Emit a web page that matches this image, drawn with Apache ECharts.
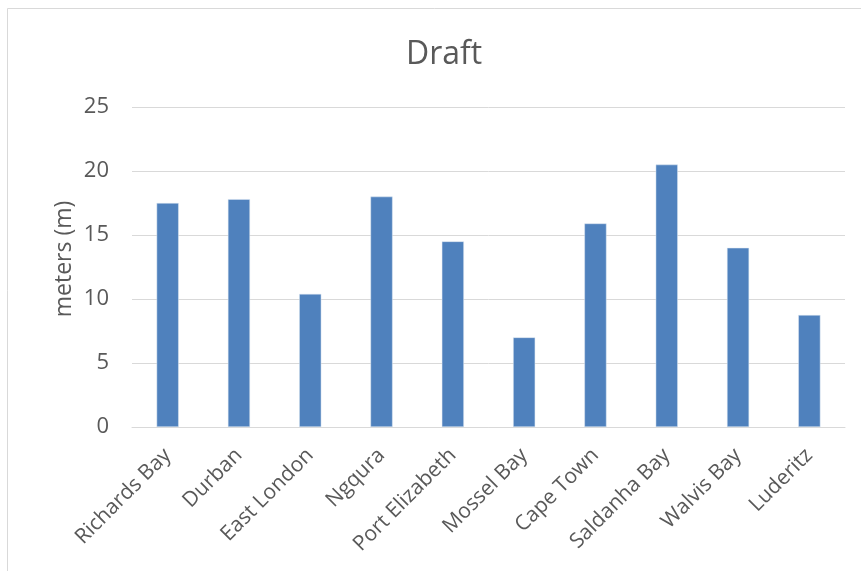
<!DOCTYPE html>
<html>
<head>
<meta charset="utf-8">
<script src="https://cdn.jsdelivr.net/npm/echarts@6/dist/echarts.min.js"></script>
<style>
  html, body { margin: 0; padding: 0; background: #fff; }
  #chart { width: 861px; height: 571px; }
</style>
</head>
<body>
<div id="chart"></div>
<script>
// 港口吃水数据
const ports = ['Richards Bay', 'Durban', 'East London', 'Ngqura', 'Port Elizabeth',
  'Mossel Bay', 'Cape Town', 'Saldanha Bay', 'Walvis Bay', 'Luderitz'];
const draft = [17.5, 17.8, 10.4, 18.0, 14.5, 7.0, 15.9, 20.5, 14.0, 8.75];
const yTicks = [0, 5, 10, 15, 20, 25];
const yName = 'meters (m)';

const font = '"Open Sans", "Noto Sans", sans-serif';
const myChart = echarts.init(document.getElementById('chart'));

const option = {
  animation: false,
  backgroundColor: '#fff',
  graphic: [{
    type: 'rect',
    shape: {x: 7.5, y: 8.5, width: 900, height: 600},
    style: {fill: 'none', stroke: '#d9d9d9', lineWidth: 1},
    silent: true
  }, {
    // y轴名称，Excel里略偏上
    type: 'text',
    x: 64,
    y: 259,
    rotation: Math.PI / 2,
    style: {
      text: yName,
      fill: '#595959',
      font: '23px ' + font,
      align: 'center',
      verticalAlign: 'middle'
    },
    silent: true
  }],
  title: {
    text: 'Draft',
    left: 406,
    top: 39,
    padding: 0,
    textStyle: {fontFamily: font, fontSize: 32, fontWeight: 'normal', color: '#595959'}
  },
  grid: {left: 132, right: 16, top: 107, bottom: 144},
  xAxis: {
    type: 'category',
    data: ports,
    axisLine: {lineStyle: {color: '#d9d9d9', width: 1}},
    axisTick: {show: false},
    axisLabel: {
      rotate: 45,
      interval: 0,
      margin: 25,
      color: '#595959',
      fontFamily: font,
      fontSize: 21
    }
  },
  yAxis: {
    type: 'value',
    min: yTicks[0],
    max: yTicks[yTicks.length - 1],
    interval: 5,
    axisLine: {show: false},
    axisTick: {show: false},
    axisLabel: {color: '#595959', fontFamily: font, fontSize: 22, margin: 23},
    splitLine: {lineStyle: {color: '#d9d9d9', width: 1}}
  },
  series: [{
    type: 'bar',
    data: draft,
    barWidth: '31%',
    itemStyle: {color: '#4F81BD', borderColor: '#dfe8f3', borderWidth: 0.5}
  }]
};

myChart.setOption(option);
</script>
</body>
</html>
